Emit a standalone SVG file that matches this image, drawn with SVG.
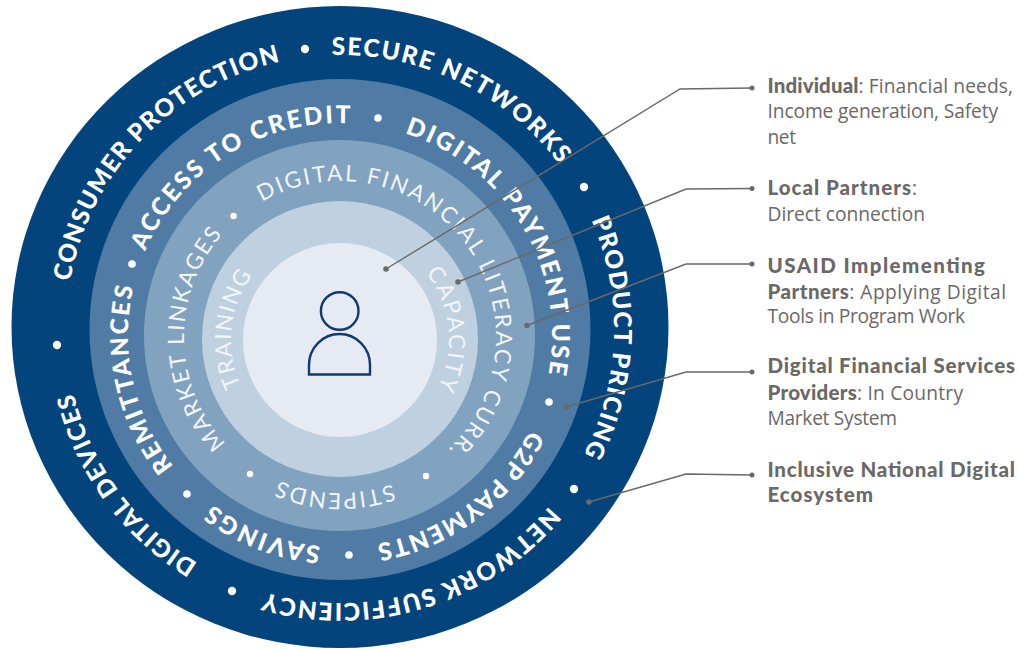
<svg xmlns="http://www.w3.org/2000/svg" width="1018" height="650" viewBox="0 0 1018 650">
<style>
.o{font:900 24.5px Lato,"Liberation Sans",sans-serif;fill:#fff}
.t{font:400 22.5px Lato,"Liberation Sans",sans-serif;fill:#f2f5f9}
.d{fill:#fff}
.c{fill:none;stroke:#6b6868;stroke-width:1.4}
.p{fill:#6b6868}
.l{font:400 19.2px "Open Sans","Liberation Sans",sans-serif;fill:#6b6868}
.l tspan.b{font:900 20.5px Lato,"Liberation Sans",sans-serif}
.i{fill:none;stroke:#123a72;stroke-width:2.4}
</style>
<defs>
<path id="r1" d="M340,55 A274,274 0 1 1 340,603 A274,274 0 1 1 340,55"/>
<path id="r2" d="M340,123 A212,212 0 1 1 340,547 A212,212 0 1 1 340,123"/>
<path id="r3" d="M340,181 A156,156 0 1 1 340,493 A156,156 0 1 1 340,181"/>
<path id="r4" d="M340,231 A109,109 0 1 1 340,449 A109,109 0 1 1 340,231"/>
</defs>
<g id="ring-ecosystem">
<ellipse cx="340" cy="327" rx="328.5" ry="321" fill="#03447c"/>
<text class="o" transform="rotate(-80 340 329)"><textPath href="#r1" textLength="322">CONSUMER PROTECTION</textPath></text>
<text class="o" transform="rotate(-1.7 340 329)"><textPath href="#r1" textLength="261.6">SECURE NETWORKS</textPath></text>
<text class="o" transform="rotate(66.6 340 329)"><textPath href="#r1" textLength="242">PRODUCT PRICING</textPath></text>
<text class="o" transform="rotate(130.3 340 329)"><textPath href="#r1" textLength="314">NETWORK SUFFICIENCY</textPath></text>
<text class="o" transform="rotate(211.3 340 329)"><textPath href="#r1" textLength="215.7">DIGITAL DEVICES</textPath></text>
<circle class="d" cx="305" cy="49" r="4.2"/><circle class="d" cx="584" cy="187" r="4.2"/><circle class="d" cx="574" cy="489" r="4.2"/><circle class="d" cx="232" cy="591" r="4.2"/><circle class="d" cx="57" cy="345" r="4.2"/>
</g>
<g id="ring-providers">
<ellipse cx="340" cy="329.5" rx="250.5" ry="250.5" fill="#4f7ba5"/>
<text class="o" transform="rotate(-66.7 340 335)"><textPath href="#r2" textLength="257">ACCESS TO CREDIT</textPath></text>
<text class="o" transform="rotate(17.8 340 335)"><textPath href="#r2" textLength="306">DIGITAL PAYMENT USE</textPath></text>
<text class="o" transform="rotate(116.6 340 335)"><textPath href="#r2" textLength="197.6">G2P PAYMENTS</textPath></text>
<text class="o" transform="rotate(185.3 340 335)"><textPath href="#r2" textLength="117">SAVINGS</textPath></text>
<text class="o" transform="rotate(231.7 340 335)"><textPath href="#r2" textLength="190">REMITTANCES</textPath></text>
<circle class="d" cx="378" cy="118" r="3.8"/><circle class="d" cx="549" cy="402" r="3.8"/><circle class="d" cx="349" cy="555" r="3.8"/><circle class="d" cx="187" cy="494" r="3.8"/><circle class="d" cx="132" cy="264" r="3.8"/>
</g>
<g id="ring-implementing">
<circle cx="339.5" cy="335.5" r="195.5" fill="#82a3c0"/>
<text class="t" transform="rotate(-30 340 337)"><textPath href="#r3" textLength="452">DIGITAL FINANCIAL LITERACY CURR.</textPath></text>
<text class="t" transform="rotate(227 340 337)"><textPath href="#r3" textLength="228.7">MARKET LINKAGES</textPath></text>
<text class="t" transform="rotate(160.5 340 337)"><textPath href="#r3" textLength="115.7">STIPENDS</textPath></text>
<circle class="d" cx="233.5" cy="216" r="3.2"/><circle class="d" cx="426" cy="476" r="3.2"/><circle class="d" cx="250" cy="474" r="3.2"/>
</g>
<g id="ring-local">
<circle cx="340" cy="339" r="138" fill="#bfd1e0"/>
<text class="t" transform="rotate(245.3 340 340)"><textPath href="#r4" textLength="116">TRAINING</textPath></text>
<text class="t" transform="rotate(52 340 340)"><textPath href="#r4" textLength="121.7">CAPACITY</textPath></text>
</g>
<g id="individual">
<circle cx="340" cy="340" r="97" fill="#e5eaf3"/>
<circle class="i" cx="339.7" cy="311" r="18.8"/>
<path class="i" d="M309,374.5 V365 A30.5,31 0 0 1 370,365 V374.5 Z"/>
</g>
<g id="connectors">
<path class="c" d="M386,269 L680,89 L752,88"/>
<path class="c" d="M458,282 L686,189 L752,188.500"/>
<path class="c" d="M527,325.500 L686,264 L752,264"/>
<path class="c" d="M566,407 L686,372 L752,372"/>
<path class="c" d="M589,502 L686,474 L752,475"/>
<circle class="p" cx="386" cy="269" r="2.800"/><circle class="p" cx="458" cy="282" r="2.800"/><circle class="p" cx="527" cy="325.500" r="2.800"/><circle class="p" cx="566" cy="407" r="2.800"/><circle class="p" cx="589" cy="502" r="2.800"/>
<circle class="p" cx="752" cy="88" r="2.500"/><circle class="p" cx="752" cy="188.500" r="2.500"/><circle class="p" cx="752" cy="264" r="2.500"/><circle class="p" cx="752" cy="372" r="2.500"/><circle class="p" cx="752" cy="475" r="2.500"/>
</g>
<g id="label-individual">
<text class="l" x="767.500" y="92.700" textLength="245.500"><tspan class="b">Individual</tspan>: Financial needs,</text>
<text class="l" x="767.500" y="118" textLength="230.500">Income generation, Safety</text>
<text class="l" x="767.500" y="144" textLength="28.500">net</text>
</g>
<g id="label-local">
<text class="l" x="767.500" y="195" textLength="149.500"><tspan class="b">Local Partners</tspan>:</text>
<text class="l" x="767.500" y="220.700" textLength="157.500">Direct connection</text>
</g>
<g id="label-implementing">
<text class="l" x="767.500" y="273" textLength="217.500"><tspan class="b">USAID Implementing</tspan></text>
<text class="l" x="767.500" y="298.500" textLength="238.500"><tspan class="b">Partners</tspan>: Applying Digital</text>
<text class="l" x="767.500" y="322.700" textLength="197.500">Tools in Program Work</text>
</g>
<g id="label-providers">
<text class="l" x="767.500" y="373" textLength="247.500"><tspan class="b">Digital Financial Services</tspan></text>
<text class="l" x="767.500" y="400" textLength="195.500"><tspan class="b">Providers</tspan>: In Country</text>
<text class="l" x="767.500" y="425" textLength="129.500">Market System</text>
</g>
<g id="label-ecosystem">
<text class="l" x="767.500" y="476.700" textLength="247.500"><tspan class="b">Inclusive National Digital</tspan></text>
<text class="l" x="767.500" y="501.700" textLength="105.500"><tspan class="b">Ecosystem</tspan></text>
</g>
</svg>
